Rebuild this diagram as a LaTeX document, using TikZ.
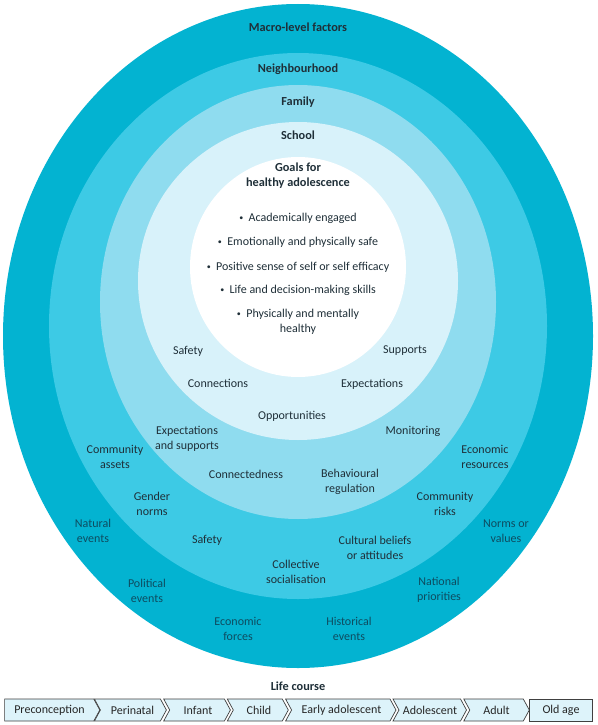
\documentclass[tikz,border=0pt]{standalone}
\usepackage{fontspec}
\setmainfont{Carlito}
\definecolor{ringmacro}{HTML}{03B3D1}
\definecolor{ringneigh}{HTML}{3DCAE5}
\definecolor{ringfam}{HTML}{8FDCEF}
\definecolor{ringschool}{HTML}{D8F2FA}
\definecolor{labelc}{HTML}{1F2F38}
\definecolor{outerc}{HTML}{0E4C60}
\definecolor{boxfill}{HTML}{DDF3FA}
\newcommand{\smbul}{\raisebox{0.15ex}{\fontsize{8}{8}\selectfont\textbullet}\ \ }
\begin{document}
\begin{tikzpicture}[x=1pt,y=-1pt,
  lbl/.style={font=\fontsize{12}{15.5}\selectfont, align=center, text=labelc, inner sep=0pt},
  olbl/.style={lbl, text=outerc},
  ttl/.style={font=\bfseries\fontsize{12.3}{15}\selectfont, align=center, text=labelc, inner sep=0pt},
  goal/.style={font=\fontsize{12}{15}\selectfont, align=center, text=labelc, inner sep=0pt},
  lcshape/.style={draw=black!75, line width=0.7pt, fill=boxfill},
  lctext/.style={font=\fontsize{12}{14}\selectfont, text=black!85, inner sep=0pt}]
\useasboundingbox (0,0) rectangle (597,725);
\fill[white] (0,0) rectangle (597,725);
% rings
\fill[ringmacro] (298,336) ellipse [x radius=295, y radius=332];
\fill[ringneigh] (298,326) ellipse [x radius=249, y radius=273];
\fill[ringfam] (298,302) ellipse [x radius=198, y radius=217];
\fill[ringschool] (298,281) ellipse [x radius=160, y radius=159];
\fill[white] (298,267) ellipse [x radius=108, y radius=110];
% ring titles
\node[ttl] (tmacro) at (298,27) {Macro-level factors};
\node[ttl] (tneigh) at (298,69) {Neighbourhood};
\node[ttl] (tfam) at (298,102) {Family};
\node[ttl] (tschool) at (298,135) {School};
\node[ttl] (tgoals) at (298,176) {Goals for\\healthy adolescence};
% goals
\node[goal] (g1) at (298,218) {\smbul Academically engaged};
\node[goal] (g2) at (298,242) {\smbul Emotionally and physically safe};
\node[goal] (g3) at (298,267) {\smbul Positive sense of self or self efficacy};
\node[goal] (g4) at (298,290) {\smbul Life and decision-making skills};
\node[goal] (g5) at (298,322) {\smbul Physically and mentally\\healthy};
% school ring
\node[lbl] (s1) at (188,351) {Safety};
\node[lbl] (s2) at (405,351) {Supports};
\node[lbl] (s3) at (218,383) {Connections};
\node[lbl] (s4) at (372,384) {Expectations};
\node[lbl] (s5) at (292,416) {Opportunities};
% family ring
\node[lbl] (f1) at (187,439) {Expectations\\and supports};
\node[lbl] (f2) at (413,431) {Monitoring};
\node[lbl] (f3) at (246,474) {Connectedness};
\node[lbl] (f4) at (350,482) {Behavioural\\regulation};
% neighbourhood ring
\node[lbl] (n1) at (115,457) {Community\\assets};
\node[lbl] (n2) at (485,457) {Economic\\resources};
\node[lbl] (n3) at (152,504) {Gender\\norms};
\node[lbl] (n4) at (445,504) {Community\\risks};
\node[lbl] (n5) at (207,540) {Safety};
\node[lbl] (n6) at (375,548) {Cultural beliefs\\or attitudes};
\node[lbl] (n7) at (296,572) {Collective\\socialisation};
% macro ring
\node[olbl] (m1) at (93,531) {Natural\\events};
\node[olbl] (m2) at (506,531) {Norms or\\values};
\node[olbl] (m3) at (147,591) {Political\\events};
\node[olbl] (m4) at (439,590) {National\\priorities};
\node[olbl] (m5) at (238,629) {Economic\\forces};
\node[olbl] (m6) at (349,629) {Historical\\events};
% life course
\node[ttl] (lc) at (298,686) {Life course};
\path[lcshape] (4.6,699) -- (93.8,699) -- (99.8,710) -- (93.8,721) -- (4.6,721) -- cycle;
\node[lctext] (b1) at (49.5,710) {Preconception};
\path[lcshape] (94.4,699) -- (160.4,699) -- (166.4,710) -- (160.4,721) -- (94.4,721) -- (100.4,710) -- cycle;
\node[lctext] (b2) at (132.5,710) {Perinatal};
\path[lcshape] (163.7,699) -- (224.4,699) -- (230.4,710) -- (224.4,721) -- (163.7,721) -- (169.7,710) -- cycle;
\node[lctext] (b3) at (198,710) {Infant};
\path[lcshape] (227.3,699) -- (282.3,699) -- (288.3,710) -- (282.3,721) -- (227.3,721) -- (233.3,710) -- cycle;
\node[lctext] (b4) at (259,710) {Child};
\path[lcshape] (285.6,699) -- (390,699) -- (396,710) -- (390,721) -- (285.6,721) -- (291.6,710) -- cycle;
\node[lctext] (b5) at (341.5,710) {Early adolescent};
\path[lcshape] (393,699) -- (460.5,699) -- (466.5,710) -- (460.5,721) -- (393,721) -- (399,710) -- cycle;
\node[lctext] (b6) at (430,710) {Adolescent};
\path[lcshape] (463.8,699) -- (523.3,699) -- (529.3,710) -- (523.3,721) -- (463.8,721) -- (469.8,710) -- cycle;
\node[lctext] (b7) at (496.5,710) {Adult};
\path[lcshape, line width=0.9pt] (529.3,699) rectangle (592.2,721);
\node[lctext] (b8) at (561,710) {Old age};
\end{tikzpicture}
\end{document}
